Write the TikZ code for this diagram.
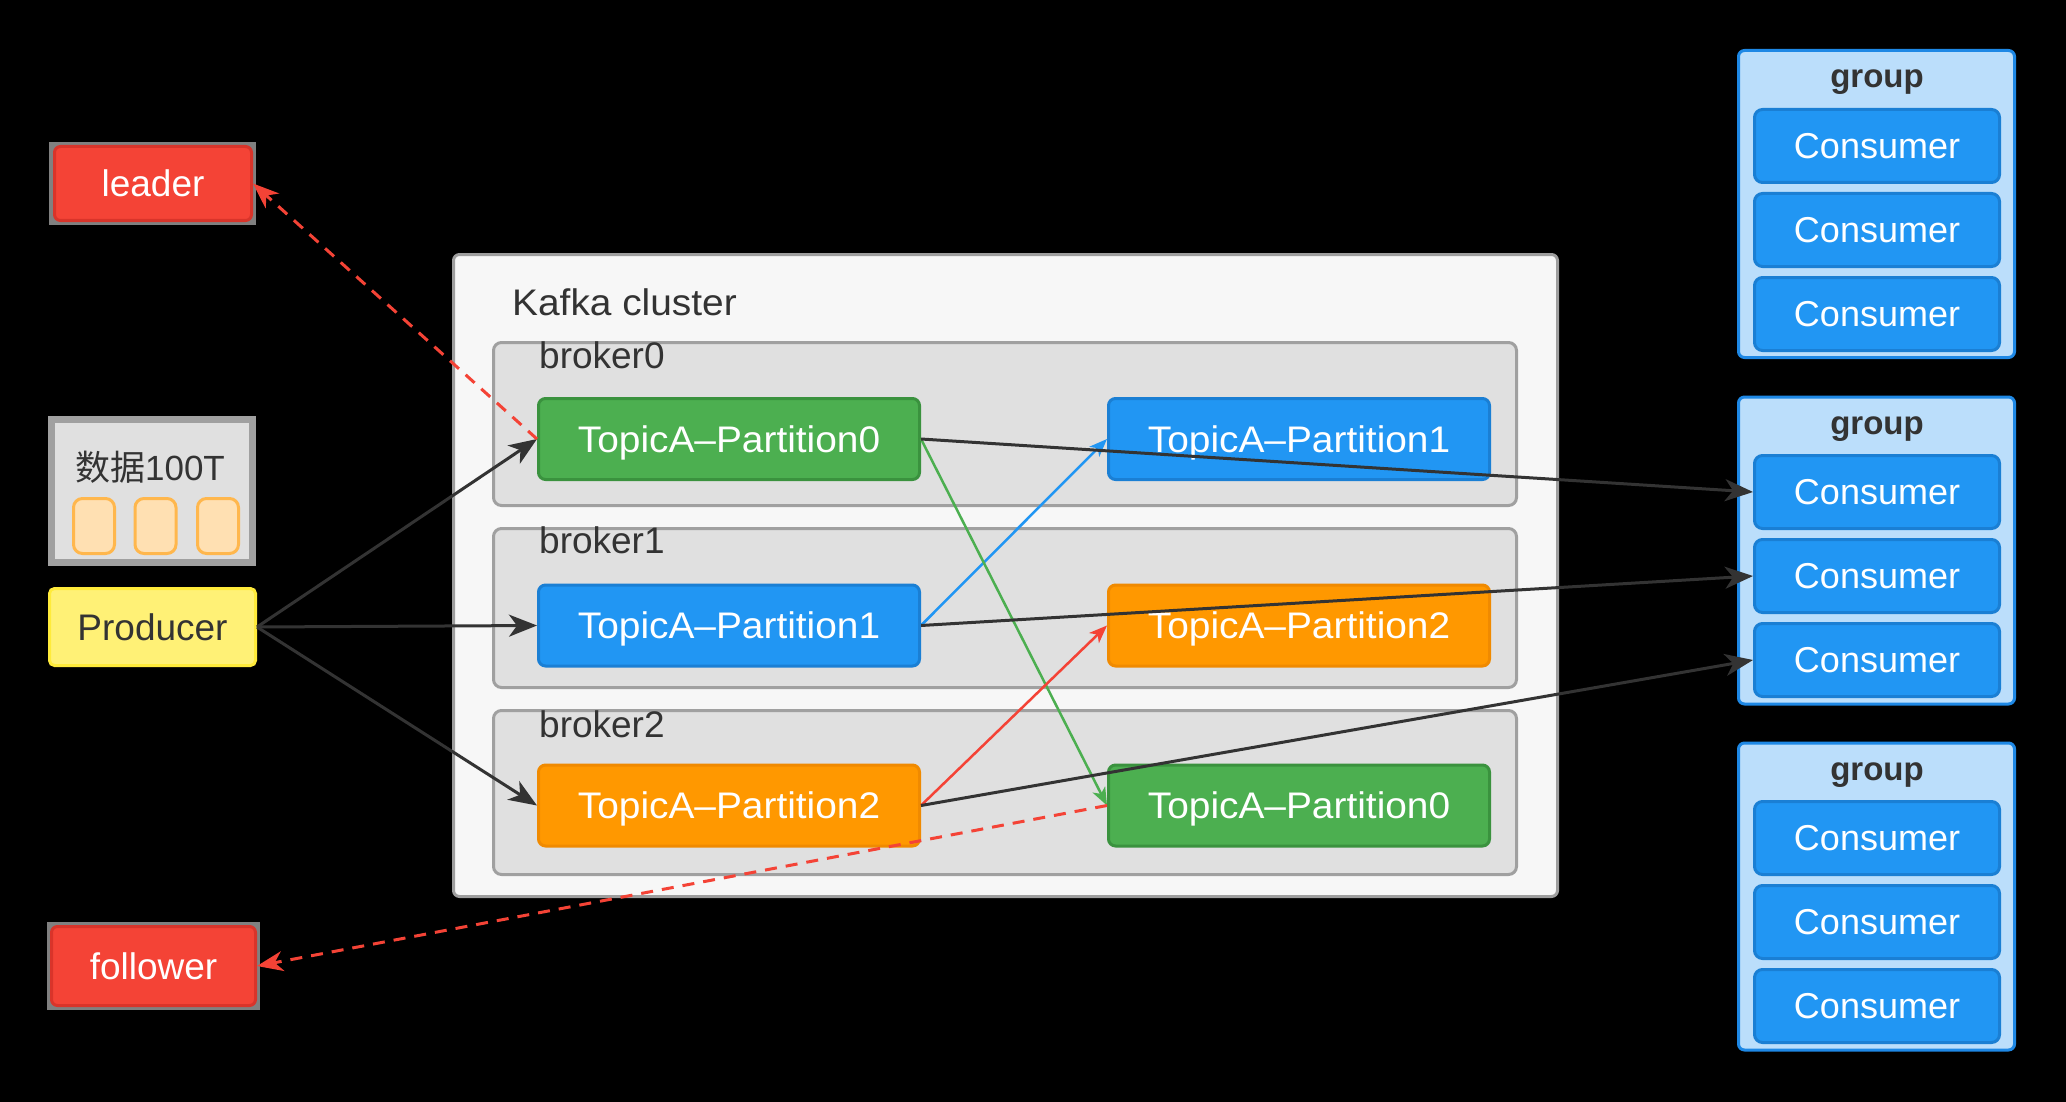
\documentclass[tikz,border=0pt]{standalone}
\usepackage{fontspec}
\setmainfont{Liberation Sans}
\newfontfamily\widefont{Liberation Sans}[FakeStretch=1.05]
\newfontfamily\cjkfont{Noto Sans CJK SC}
\usetikzlibrary{arrows.meta}
\definecolor{cgreen}{HTML}{4CAF50}
\definecolor{cgreenD}{HTML}{3A923E}
\definecolor{cblue}{HTML}{2196F3}
\definecolor{cblueD}{HTML}{1A7FD4}
\definecolor{corange}{HTML}{FF9800}
\definecolor{corangeD}{HTML}{F08A00}
\definecolor{cred}{HTML}{F44336}
\definecolor{credD}{HTML}{D9342A}
\definecolor{cgrpF}{HTML}{BBDEFB}
\definecolor{cgrpD}{HTML}{1E88E5}
\definecolor{cclF}{HTML}{F7F7F7}
\definecolor{cclD}{HTML}{9E9E9E}
\definecolor{cbrF}{HTML}{E0E0E0}
\definecolor{cbrD}{HTML}{A0A0A0}
\definecolor{ctext}{HTML}{333333}
\definecolor{cyel}{HTML}{FFF176}
\definecolor{cyelD}{HTML}{FFEB3B}
\definecolor{csqF}{HTML}{FFE0B2}
\definecolor{csqD}{HTML}{FFB74D}
\definecolor{chalo}{HTML}{808080}
\newcommand\fA{\fontsize{37}{44}\selectfont}
\newcommand\fP{\widefont\fontsize{37}{44}\selectfont}
\newcommand\fC{\fontsize{36}{43}\selectfont}
\newcommand\fG{\fontsize{33}{40}\selectfont\bfseries}
\begin{document}
\begin{tikzpicture}[x=1pt,y=-1pt,
  box/.style={rectangle, rounded corners=7pt, inner sep=0pt, line width=3pt, anchor=center},
  part/.style={box, minimum width=381pt, minimum height=81pt, text=white, font=\fP, text height=26.5pt, text depth=0pt},
  pgreen/.style={part, fill=cgreen, draw=cgreenD},
  pblue/.style={part, fill=cblue, draw=cblueD},
  porange/.style={part, fill=corange, draw=corangeD},
  broker/.style={box, rounded corners=8pt, minimum width=1023pt, fill=cbrF, draw=cbrD},
  lbl/.style={anchor=base west, inner sep=0pt, text=ctext, font=\fA},
  grp/.style={box, rounded corners=6pt, minimum width=276pt, minimum height=307pt, fill=cgrpF, draw=cgrpD},
  grplbl/.style={anchor=base, inner sep=0pt, text=ctext, font=\fG},
  cons/.style={box, rounded corners=8pt, minimum width=245pt, minimum height=73pt, fill=cblue, draw=cblueD, text=white, font=\fC},
  redbox/.style={box, rounded corners=6pt, fill=cred, draw=credD, text=white, font=\fA},
  sq/.style={box, rounded corners=9pt, minimum width=41pt, minimum height=55pt, fill=csqF, draw=csqD},
  blk/.style={draw=ctext, line width=3pt, -{Stealth[length=28pt,width=22pt,inset=8pt]}},
  colarrow/.style={line width=2.5pt, -{Stealth[length=18pt,width=14pt,inset=5pt]}},
  rdash/.style={draw=cred, line width=3pt, dash pattern=on 12pt off 9pt, -{Stealth[length=26pt,width=20pt,inset=8pt]}}
]
\fill[black] (0,0) rectangle (2066,1102);
\useasboundingbox (0,0) rectangle (2066,1102);

% Kafka cluster
\node[box, rounded corners=6pt, minimum width=1104pt, minimum height=642pt, fill=cclF, draw=cclD] (cluster) at (1005.5,575.5) {};
\node[lbl, font=\widefont\fontsize{37}{44}\selectfont] (kafka) at (512,315) {Kafka cluster};

\node[broker, minimum height=163pt] (b0) at (1005,424) {};
\node[broker, minimum height=159pt] (b1) at (1005,608) {};
\node[broker, minimum height=164pt] (b2) at (1005,792.5) {};
\node[lbl] (b0l) at (539,368) {broker0};
\node[lbl] (b1l) at (539,553) {broker1};
\node[lbl] (b2l) at (539,737) {broker2};

\node[pgreen] (p0) at (729,439) {TopicA–Partition0};
\node[pblue] (p1) at (729,625.5) {TopicA–Partition1};
\node[porange] (p2) at (729,805.5) {TopicA–Partition2};
\node[pblue] (q1) at (1299,439) {TopicA–Partition1};
\node[porange] (q2) at (1299,625.5) {TopicA–Partition2};
\node[pgreen] (q0) at (1299,805.5) {TopicA–Partition0};

% consumer groups
\node[grp] (g1) at (1876.5,204) {};
\node[grplbl] (g1l) at (1877,88) {group};
\node[cons] (g1c1) at (1877,146) {Consumer};
\node[cons] (g1c2) at (1877,230) {Consumer};
\node[cons] (g1c3) at (1877,314) {Consumer};

\node[grp] (g2) at (1876.5,550.5) {};
\node[grplbl] (g2l) at (1877,434) {group};
\node[cons] (g2c1) at (1877,492) {Consumer};
\node[cons] (g2c2) at (1877,576) {Consumer};
\node[cons] (g2c3) at (1877,660) {Consumer};

\node[grp] (g3) at (1876.5,896.5) {};
\node[grplbl] (g3l) at (1877,780) {group};
\node[cons] (g3c1) at (1877,838) {Consumer};
\node[cons] (g3c2) at (1877,922) {Consumer};
\node[cons] (g3c3) at (1877,1006) {Consumer};

% left side
\fill[chalo] (49,142) rectangle (256,225);
\node[redbox, minimum width=197pt, minimum height=74pt] (leader) at (153,183.5) {leader};
\fill[chalo] (47,922) rectangle (260,1010);
\node[redbox, minimum width=204pt, minimum height=79pt] (follower) at (153.5,966) {follower};

\node[rectangle, inner sep=0pt, line width=7pt, minimum width=201pt, minimum height=143pt, fill=cbrF, draw=cbrD] (data) at (152,491) {};
\node[anchor=center, inner sep=0pt, text=ctext, font=\fontsize{35}{42}\selectfont] (datat) at (150,467) {{\cjkfont 数据}100T};
\node[sq] (sq1) at (94,526) {};
\node[sq] (sq2) at (155.5,526) {};
\node[sq] (sq3) at (218,526) {};

\node[box, rounded corners=5pt, minimum width=206pt, minimum height=77pt, fill=cyel, draw=cyelD, text=ctext, font=\fA] (prod) at (152.5,627) {Producer};

% connectors
\draw[blk] (prod.east) -- (p0.west);
\draw[blk] (prod.east) -- (p1.west);
\draw[blk] (prod.east) -- (p2.west);
\draw[colarrow, draw=cblue] (p1.east) -- (q1.west);
\draw[colarrow, draw=cgreen] (p0.east) -- (q0.west);
\draw[colarrow, draw=cred] (p2.east) -- (q2.west);
\draw[blk] (p0.east) -- (g2c1.west);
\draw[blk] (p1.east) -- (g2c2.west);
\draw[blk] (p2.east) -- (g2c3.west);
\draw[rdash] (p0.west) -- (leader.east);
\draw[rdash] (q0.west) -- (follower.east);
\end{tikzpicture}
\end{document}
